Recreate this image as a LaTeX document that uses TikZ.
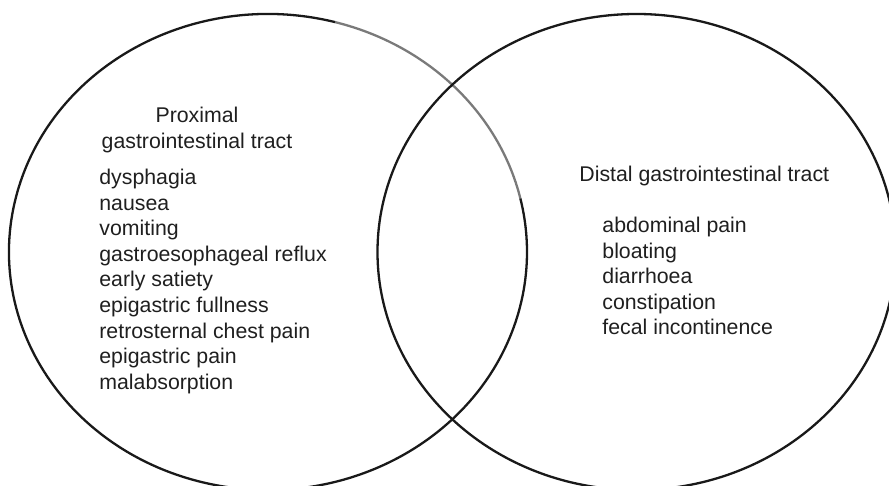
\documentclass[tikz,border=0pt]{standalone}
\usepackage{fontspec}
\setmainfont{Liberation Sans}
\usetikzlibrary{positioning}

\begin{document}
\begin{tikzpicture}[
  x=0.5pt, y=0.5pt,
  every node/.style={inner sep=0pt, text=black!88,
                     font=\fontsize{10.65}{12.75}\selectfont},
  ring/.style={line width=1.15pt, draw=black!90},
  faintring/.style={line width=1.15pt, draw=black!52},
  head/.style={anchor=base},
  item/.style={anchor=base west}
]
\useasboundingbox (0,-486) rectangle (889,0);

% proximal set, its upper right arc is lighter
\draw[faintring] (268,-252) ++(13:259 and 238)
  arc[start angle=13, end angle=75, x radius=259, y radius=238];
\draw[ring] (268,-252) ++(75:259 and 238)
  arc[start angle=75, end angle=373, x radius=259, y radius=238];
% distal set
\draw[ring] (636.5,-252) ellipse[x radius=259, y radius=238];

\node[head] (proxhead) at (197,-123) {Proximal};
\node[head] (proxheadb) at (197,-149) {gastrointestinal tract};
\foreach \sym [count=\i from 0] in {dysphagia, nausea, vomiting,
    gastroesophageal reflux, early satiety, epigastric fullness,
    retrosternal chest pain, epigastric pain, malabsorption}
  \node[item] (prox\i) at (99,{-185-25.5*\i}) {\sym};

\node[item] (disthead) at (579,-182) {Distal gastrointestinal tract};
\foreach \sym [count=\i from 0] in {abdominal pain, bloating, diarrhoea,
    constipation, fecal incontinence}
  \node[item] (dist\i) at (602,{-233-25.5*\i}) {\sym};

\end{tikzpicture}
\end{document}
